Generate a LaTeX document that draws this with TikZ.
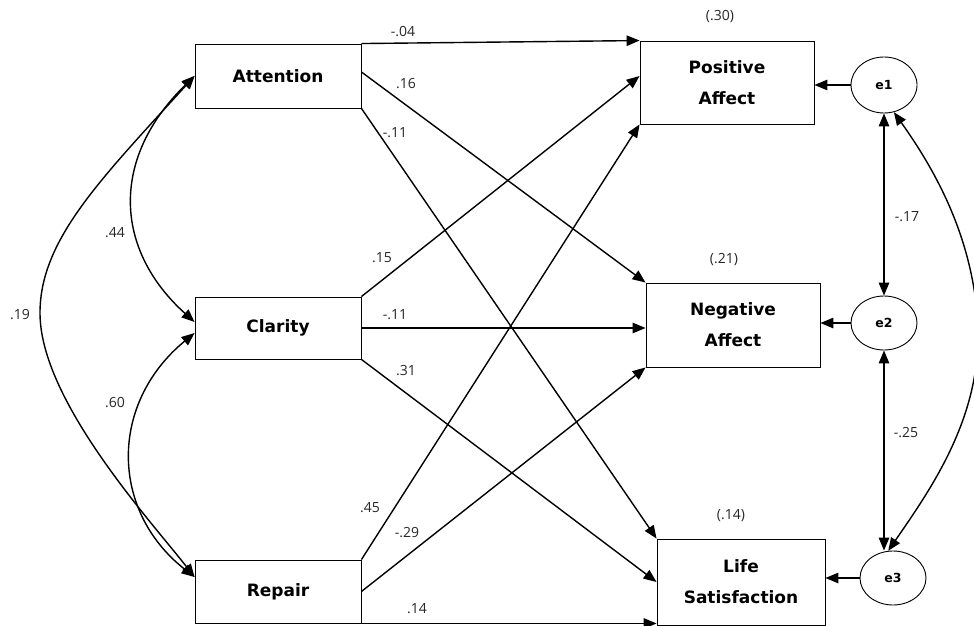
\documentclass[tikz,border=0pt]{standalone}
\usepackage{fontspec}
\setmainfont{DejaVu Sans}
\newfontfamily\numfont{Open Sans}
\usetikzlibrary{arrows.meta,calc,shapes.geometric}
\begin{document}
\begin{tikzpicture}[x=1pt,y=-1pt,
  varbox/.style={draw,line width=0.9pt,inner sep=0pt,align=center,font=\bfseries\fontsize{17}{31}\selectfont},
  errnode/.style={draw,ellipse,line width=0.9pt,inner sep=0pt,minimum width=66pt,font=\bfseries\fontsize{12.5}{14}\selectfont},
  patharrow/.style={-{Triangle[length=13pt,width=10.5pt]},line width=1.4pt},
  covarrow/.style={{Triangle[length=13pt,width=10.5pt]}-{Triangle[length=13pt,width=10.5pt]},line width=1.4pt},
  lab/.style={font=\numfont\fontsize{14}{16}\selectfont,inner sep=0pt,text=black!85}
]
\useasboundingbox (0,0) rectangle (974,626);

% predictors
\node[varbox,minimum width=166pt,minimum height=64pt] (att) at (278,76) {Attention};
\node[varbox,minimum width=166pt,minimum height=62pt] (cla) at (278,328) {Clarity};
\node[varbox,minimum width=166pt,minimum height=63pt] (rep) at (278,591.5) {Repair};

% outcomes
\node[varbox,minimum width=174pt,minimum height=83pt] (pos) at (727,82.5) {Positive\\Affect};
\node[varbox,minimum width=174pt,minimum height=84pt] (neg) at (733,325) {Negative\\Affect};
\node[varbox,minimum width=168pt,minimum height=86pt] (lif) at (741,582) {Life\\Satisfaction};

% errors
\node[errnode,minimum height=56pt] (e1) at (884,85) {e1};
\node[errnode,minimum height=54pt] (e2) at (884,323) {e2};
\node[errnode,minimum height=54pt] (e3) at (893,578) {e3};

% paths
\draw[patharrow] (att.north east) -- (pos.north west);
\draw[patharrow] ([yshift=4pt]att.east) -- (neg.north west);
\draw[patharrow] (att.south east) -- (lif.north west);
\draw[patharrow] (cla.north east) -- ([yshift=6.5pt]pos.west);
\draw[patharrow] (cla.east) -- (cla.east -| neg.west);
\draw[patharrow] (cla.south east) -- (lif.west);
\draw[patharrow] (rep.north east) -- (pos.south west);
\draw[patharrow] (rep.east) -- (neg.south west);
\draw[patharrow] (rep.south east) -- (rep.south east -| lif.west);

% error paths
\draw[patharrow] (e1.west) -- (e1.west -| pos.east);
\draw[patharrow] (e2.west) -- (e2.west -| neg.east);
\draw[patharrow] (e3.west) -- (e3.west -| lif.east);

% error covariances
\draw[covarrow] (e1.south) -- (e2.north);
\draw[covarrow] (e2.south) -- (e2.south |- e3.north);
\draw[covarrow] (e1.-70) .. controls (935,170) and (975,240) .. (978,330) .. controls (980,420) and (930,490) .. (e3.100);

% predictor covariances
\draw[covarrow] (att.west) .. controls +(-85,83) and +(-80,-72) .. ([yshift=6pt]cla.west);
\draw[covarrow] ([yshift=-5pt]cla.west) .. controls +(-85,70) and +(-85,-67) .. ([yshift=14.5pt]rep.west);
\draw[covarrow] (att.west) .. controls (100,180) and (40,240) .. (40,313) .. controls (40,400) and (150,520) .. ([yshift=14.5pt]rep.west);

% coefficient labels
\node[lab] (l1) at (403,32) {-.04};
\node[lab] (l2) at (406,84) {.16};
\node[lab] (l3) at (395,133) {-.11};
\node[lab] (l4) at (382,258) {.15};
\node[lab] (l5) at (395,315) {-.11};
\node[lab] (l6) at (406,371) {.31};
\node[lab] (l7) at (370,508) {.45};
\node[lab] (l8) at (407,533) {-.29};
\node[lab] (l9) at (417,609) {.14};
\node[lab] (l10) at (115,233) {.44};
\node[lab] (l11) at (20,315) {.19};
\node[lab] (l12) at (115,403) {.60};
\node[lab] (r1) at (720,17) {(.30)};
\node[lab] (r2) at (724,260) {(.21)};
\node[lab] (r3) at (731,516) {(.14)};
\node[lab] (c1) at (907,217) {-.17};
\node[lab] (c2) at (906,433) {-.25};
\end{tikzpicture}
\end{document}
